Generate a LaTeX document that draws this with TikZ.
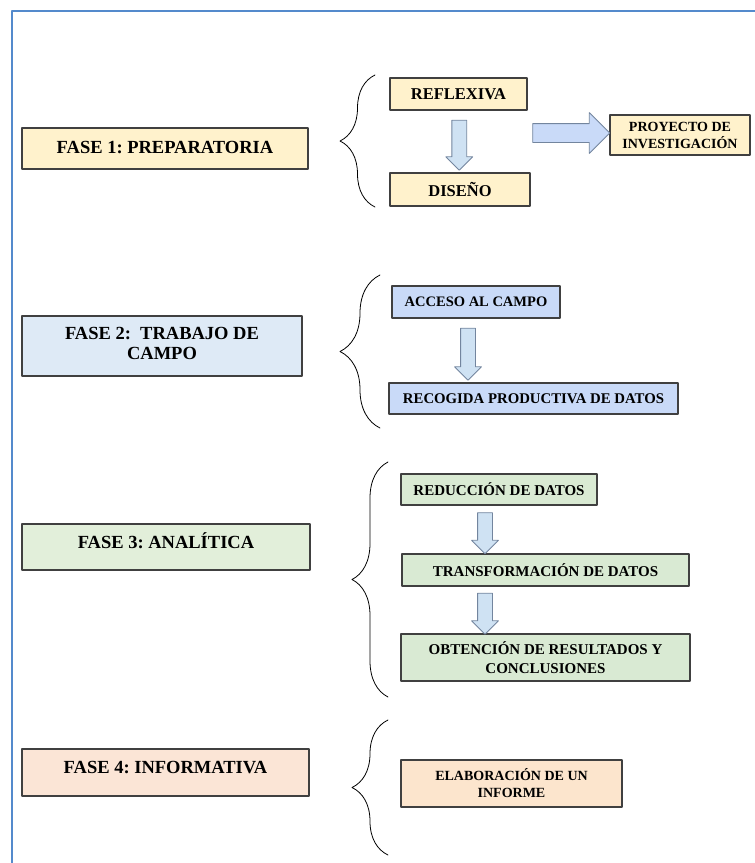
\documentclass[tikz,border=0pt]{standalone}
\usepackage{fontspec}
\setmainfont{Liberation Serif}
\usetikzlibrary{arrows,calc,shapes.arrows,decorations.pathreplacing}
\definecolor{fff2cc}{rgb}{1,0.949,0.8}
\definecolor{deeaf6}{rgb}{0.871,0.918,0.965}
\definecolor{c9daf8}{rgb}{0.788,0.855,0.973}
\definecolor{e2efda}{rgb}{0.886,0.937,0.855}
\definecolor{d9ead3}{rgb}{0.851,0.918,0.827}
\definecolor{fbe5d6}{rgb}{0.984,0.898,0.839}
\definecolor{fce5cd}{rgb}{0.988,0.898,0.804}
\definecolor{cfe2f3}{rgb}{0.812,0.886,0.953}
\definecolor{marcoazul}{rgb}{0.33,0.54,0.80}
\definecolor{borde}{rgb}{0.25,0.25,0.25}
\definecolor{bordeflecha}{rgb}{0.45,0.52,0.62}
\frenchspacing

\begin{document}
\begin{tikzpicture}[line cap=round,line join=round,x=1pt,y=-1pt,
	caja/.style={draw=borde,line width=1.1pt,rectangle,inner sep=0pt,align=center,font=\bfseries\fontsize{15}{19}\selectfont},
	fase/.style={caja},
	fasetxt/.style={align=center,font=\bfseries\fontsize{18.5}{20}\selectfont},
	chica/.style={caja,font=\bfseries\fontsize{14}{17}\selectfont},
	flecha/.style={single arrow,draw=bordeflecha,fill=cfe2f3,line width=0.8pt,inner sep=7pt,single arrow head extend=6pt,single arrow head indent=0pt,shape border rotate=270},
	llave/.style={decorate,line width=0.8pt,decoration={brace,aspect=0.5,amplitude=#1}}]
	\useasboundingbox (0,0) rectangle (755,863);
	\draw [marcoazul,line width=2.5pt,line cap=butt] (12,863) -- (12,11) -- (755,11);
	\node[fase,fill=fff2cc,minimum width=286pt,minimum height=41pt] (f1) at (165,148.5) {};
	\node[fasetxt] (t1) at ($(f1.center)+(0,-1)$) {FASE 1: PREPARATORIA};
	\node[fase,fill=deeaf6,minimum width=280pt,minimum height=60pt] (f2) at (162,346) {};
	\node[fasetxt] (t2) at ($(f2.center)+(0,-3)$) {FASE 2:\ \ TRABAJO DE\\CAMPO};
	\node[fase,fill=e2efda,minimum width=288pt,minimum height=46pt] (f3) at (166,547) {};
	\node[fasetxt] (t3) at ($(f3.center)+(0,-6)$) {FASE 3: ANALÍTICA};
	\node[fase,fill=fbe5d6,minimum width=287pt,minimum height=47pt] (f4) at (165.5,772.5) {};
	\node[fasetxt] (t4) at ($(f4.center)+(0,-5)$) {FASE 4: INFORMATIVA};
	\node[caja,font=\bfseries\fontsize{16.5}{19}\selectfont,fill=fff2cc,minimum width=137pt,minimum height=32pt] (refl) at (458.5,94) {REFLEXIVA};
	\node[caja,font=\bfseries\fontsize{16.5}{19}\selectfont,fill=fff2cc,minimum width=140pt,minimum height=33pt] (dise) at (460,189.5) {DISEÑO};
	\node[chica,fill=fff2cc,minimum width=140pt,minimum height=40pt] (proy) at (680,135) {PROYECTO DE\\INVESTIGACIÓN};
	\node[caja,font=\bfseries\fontsize{14.5}{17}\selectfont,fill=c9daf8,minimum width=168pt,minimum height=32pt] (acc) at (476,302) {ACCESO AL CAMPO};
	\node[caja,font=\bfseries\fontsize{14.8}{17}\selectfont,fill=c9daf8,minimum width=289pt,minimum height=31pt] (rec) at (533.5,398.5) {RECOGIDA PRODUCTIVA DE DATOS};
	\node[caja,fill=d9ead3,minimum width=196pt,minimum height=31pt] (red) at (499,489.5) {REDUCCIÓN DE DATOS};
	\node[caja,fill=d9ead3,minimum width=287pt,minimum height=32pt] (tra) at (545.5,570) {TRANSFORMACIÓN DE DATOS};
	\node[caja,fill=d9ead3,minimum width=289pt,minimum height=47pt] (obt) at (545.5,657.5) {OBTENCIÓN DE RESULTADOS Y\\CONCLUSIONES};
	\node[chica,fill=fce5cd,minimum width=221pt,minimum height=47pt] (ela) at (511.5,783.5) {ELABORACIÓN DE UN\\INFORME};
	\node[flecha,minimum height=50pt] (a1) at ($(refl.south)!0.5!(dise.north)$) {};
	\node[flecha,fill=c9daf8,inner sep=9pt,single arrow head extend=11pt,shape border rotate=0,minimum height=77pt] (a2) at ($(refl.east |- proy.west)!0.5!(proy.west)+(-2,-2)$) {};
	\node[flecha,minimum height=52pt] (a3) at ($(acc.south)!0.5!(acc.south |- rec.north)+(-8,0)$) {};
	\node[flecha,minimum height=41pt] (a4) at ($(red.south)!0.5!(red.south |- tra.north)+(-14,0)$) {};
	\node[flecha,minimum height=41pt] (a5) at ($(red.south |- tra.south)!0.5!(red.south |- obt.north)+(-14,0)$) {};
	\draw [llave=35pt] (375,207) -- (375,75);
	\draw [llave=40pt] (380,428) -- (380,275);
	\draw [llave=36pt] (388,697) -- (388,462);
	\draw [llave=36pt] (388,855) -- (388,720);
\end{tikzpicture}
\end{document}
